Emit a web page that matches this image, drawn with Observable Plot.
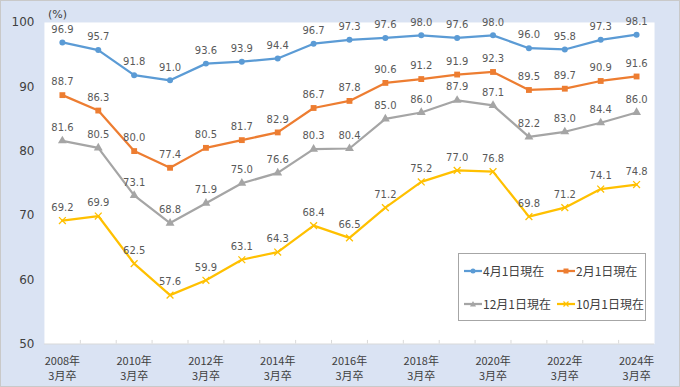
<!DOCTYPE html>
<html>
<head>
<meta charset="utf-8">
<script src="https://cdn.jsdelivr.net/npm/d3@7"></script>
<script src="https://cdn.jsdelivr.net/npm/@observablehq/plot@0.6"></script>
<style>
  html, body { margin: 0; padding: 0; background: #fff; }
  #wrap { position: relative; width: 680px; height: 387px; background: #dae3f3; box-sizing: border-box; border: 1px solid #c9c9c9; overflow: hidden; font-family: "DejaVu Sans", "Noto Sans CJK JP", sans-serif; }
  #chart { position: absolute; left: -1px; top: -1px; }
  #unit { position: absolute; left: 47px; top: 7px; font-size: 11px; color: #404040; }
  #legend { position: absolute; left: 457px; top: 252px; width: 188px; height: 68px; background: #fff; border: 1px solid #a6a6a6; box-sizing: border-box; font-size: 12px; color: #404040; font-family: "Noto Sans CJK JP", sans-serif; }
  .item { position: absolute; display: flex; align-items: center; white-space: nowrap; line-height: 16px; }
  .item svg { margin-right: 1px; }
</style>
</head>
<body>
<div id="wrap">
  <div id="chart"></div>
  <div id="unit">(%)</div>
  <div id="legend"></div>
</div>
<script>
const years = [2008, 2009, 2010, 2011, 2012, 2013, 2014, 2015, 2016, 2017, 2018, 2019, 2020, 2021, 2022, 2023, 2024];
const seriesNames = ["4月1日現在", "2月1日現在", "12月1日現在", "10月1日現在"];
const apr = [96.9, 95.7, 91.8, 91.0, 93.6, 93.9, 94.4, 96.7, 97.3, 97.6, 98.0, 97.6, 98.0, 96.0, 95.8, 97.3, 98.1];
const feb = [88.7, 86.3, 80.0, 77.4, 80.5, 81.7, 82.9, 86.7, 87.8, 90.6, 91.2, 91.9, 92.3, 89.5, 89.7, 90.9, 91.6];
const dec = [81.6, 80.5, 73.1, 68.8, 71.9, 75.0, 76.6, 80.3, 80.4, 85.0, 86.0, 87.9, 87.1, 82.2, 83.0, 84.4, 86.0];
const oct = [69.2, 69.9, 62.5, 57.6, 59.9, 63.1, 64.3, 68.4, 66.5, 71.2, 75.2, 77.0, 76.8, 69.8, 71.2, 74.1, 74.8];
const yTicks = [50, 60, 70, 80, 90, 100];
const labelYears = [2008, 2010, 2012, 2014, 2016, 2018, 2020, 2022, 2024];

const colors = ["#5B9BD5", "#ED7D31", "#A5A5A5", "#FFC000"];
const symbols = ["circle", "square", "triangle", "times"];
const allSeries = [apr, feb, dec, oct];

const data = [];
allSeries.forEach((vals, si) => vals.forEach((v, i) => data.push({year: years[i], value: v, series: seriesNames[si]})));
const bounds = years.slice(0, -1).map(y => y + 0.5);

const dotMarks = seriesNames.map((name, si) => {
  const sub = data.filter(d => d.series === name);
  if (symbols[si] === "times") {
    return Plot.dot(sub, {x: "year", y: "value", symbol: () => "times", r: 3.2, stroke: colors[si], strokeWidth: 1.3, fill: "none"});
  }
  return Plot.dot(sub, {x: "year", y: "value", symbol: () => symbols[si], r: symbols[si] === "circle" ? 3 : 3.3, fill: colors[si], stroke: "none"});
});

const chart = Plot.plot({
  width: 680,
  height: 387,
  marginLeft: 44,
  marginRight: 25,
  marginTop: 22,
  marginBottom: 43,
  x: {type: "linear", domain: [2007.5, 2024.5], axis: null},
  y: {domain: [50, 100], axis: null},
  symbol: {type: "identity"},
  style: {background: "transparent", fontFamily: "'DejaVu Sans', 'Noto Sans CJK JP', sans-serif", color: "#404040", overflow: "visible"},
  marks: [
    Plot.frame({fill: "white", stroke: null}),
    Plot.axisY({ticks: yTicks, tickSize: 0, tickPadding: 10, fontSize: 12, label: null, fill: "#404040"}),
    Plot.ruleY([50], {stroke: "#d9d9d9", strokeWidth: 1}),
    Plot.ruleX(bounds, {y1: 50, y2: 50.55, stroke: "#d9d9d9"}),
    Plot.line(data, {x: "year", y: "value", z: "series", stroke: d => colors[seriesNames.indexOf(d.series)], strokeWidth: 2.25}),
    ...dotMarks,
    Plot.text(data, {x: "year", y: "value", text: d => d.value.toFixed(1), dy: -13, fill: "#595959", fontSize: 10}),
    Plot.text(labelYears, {x: d => d, y: 50, text: d => `${d}年\n3月卒`, dy: 10, lineAnchor: "top", lineHeight: 1.4, fontSize: 11, fill: "#404040", fontFamily: "'Noto Sans CJK JP', sans-serif"})
  ]
});
document.getElementById("chart").appendChild(chart);

// legend
const legend = document.getElementById("legend");
const pos = [[5, 9], [98, 9], [5, 42], [98, 42]];
seriesNames.forEach((name, si) => {
  const it = document.createElement("div");
  it.className = "item";
  it.style.left = pos[si][0] + "px";
  it.style.top = pos[si][1] + "px";
  let marker = "";
  const c = colors[si];
  if (symbols[si] === "circle") marker = `<circle cx="9" cy="8" r="2.5" fill="${c}"/>`;
  else if (symbols[si] === "square") marker = `<rect x="6.5" y="5.5" width="5" height="5" fill="${c}"/>`;
  else if (symbols[si] === "triangle") marker = `<path d="M9,5 L12,10.5 L6,10.5 Z" fill="${c}"/>`;
  else marker = `<path d="M6.5,5.5 L11.5,10.5 M11.5,5.5 L6.5,10.5" stroke="${c}" stroke-width="1.2"/>`;
  it.innerHTML = `<svg width="18" height="16"><line x1="0" y1="8" x2="18" y2="8" stroke="${c}" stroke-width="2.25"/>${marker}</svg><span>${name}</span>`;
  legend.appendChild(it);
});
</script>
</body>
</html>
